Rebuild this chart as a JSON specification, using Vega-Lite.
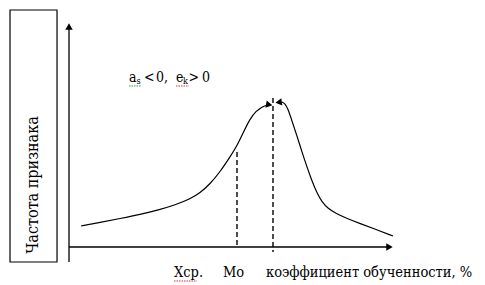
{
  "$schema": "https://vega.github.io/schema/vega-lite/v6.json",
  "width": 485,
  "height": 285,
  "padding": 0,
  "autosize": {"type": "none"},
  "background": "white",
  "config": {"view": {"stroke": null}},
  "datasets": {
    "curve": [
      {"b": "L", "i": 1, "x": 3.70, "y": 9.38},
      {"b": "L", "i": 2, "x": 9.57, "y": 10.94},
      {"b": "L", "i": 3, "x": 15.74, "y": 12.72},
      {"b": "L", "i": 4, "x": 21.91, "y": 14.51},
      {"b": "L", "i": 5, "x": 28.09, "y": 16.74},
      {"b": "L", "i": 6, "x": 32.72, "y": 18.75},
      {"b": "L", "i": 7, "x": 37.35, "y": 21.43},
      {"b": "L", "i": 8, "x": 40.43, "y": 24.11},
      {"b": "L", "i": 9, "x": 43.52, "y": 28.13},
      {"b": "L", "i": 10, "x": 46.60, "y": 33.48},
      {"b": "L", "i": 11, "x": 49.69, "y": 40.18},
      {"b": "L", "i": 12, "x": 51.85, "y": 45.09},
      {"b": "L", "i": 13, "x": 54.01, "y": 51.79},
      {"b": "L", "i": 14, "x": 55.86, "y": 57.14},
      {"b": "L", "i": 15, "x": 57.72, "y": 60.71},
      {"b": "L", "i": 16, "x": 59.57, "y": 62.50},
      {"b": "L", "i": 17, "x": 60.80, "y": 63.17},
      {"b": "R", "i": 1, "x": 65.74, "y": 64.73},
      {"b": "R", "i": 2, "x": 66.67, "y": 64.06},
      {"b": "R", "i": 3, "x": 67.59, "y": 61.61},
      {"b": "R", "i": 4, "x": 68.83, "y": 56.25},
      {"b": "R", "i": 5, "x": 70.37, "y": 49.55},
      {"b": "R", "i": 6, "x": 71.91, "y": 42.41},
      {"b": "R", "i": 7, "x": 73.46, "y": 35.71},
      {"b": "R", "i": 8, "x": 75.00, "y": 29.46},
      {"b": "R", "i": 9, "x": 76.54, "y": 24.11},
      {"b": "R", "i": 10, "x": 78.09, "y": 20.09},
      {"b": "R", "i": 11, "x": 79.94, "y": 17.19},
      {"b": "R", "i": 12, "x": 82.41, "y": 14.96},
      {"b": "R", "i": 13, "x": 85.80, "y": 12.72},
      {"b": "R", "i": 14, "x": 89.81, "y": 10.49},
      {"b": "R", "i": 15, "x": 94.44, "y": 8.04},
      {"b": "R", "i": 16, "x": 100.0, "y": 4.91}
    ],
    "axes": [
      {"x": 0, "y": -6.70, "x2": 0, "y2": 97.5},
      {"x": 0, "y": 0, "x2": 98.5, "y2": 0}
    ],
    "dashes": [
      {"x": 51.85, "y": 42.41, "x2": 51.85, "y2": -0.45},
      {"x": 62.96, "y": 66.52, "x2": 62.96, "y2": -2.23}
    ],
    "box": [
      {"x": -18.21, "x2": -3.70, "y": -6.70, "y2": 105.80}
    ],
    "heads": [
      {"x": 0, "y": 98.44, "shape": "triangle-up", "angle": 0},
      {"x": 98.92, "y": 0, "shape": "triangle-right", "angle": 0},
      {"x": 61.80, "y": 63.55, "shape": "triangle-right", "angle": 10},
      {"x": 64.70, "y": 64.60, "shape": "triangle-left", "angle": -8}
    ],
    "labels": [
      {"x": 18.52, "y": 73.66, "text": "a", "size": 14},
      {"x": 20.8, "y": 72.8, "text": "s", "size": 9},
      {"x": 23.15, "y": 73.66, "text": "<", "size": 14},
      {"x": 26.85, "y": 73.66, "text": "0,", "size": 14},
      {"x": 33.02, "y": 73.66, "text": "e", "size": 14},
      {"x": 35.19, "y": 72.8, "text": "k", "size": 9},
      {"x": 36.90, "y": 73.66, "text": ">", "size": 14},
      {"x": 41.05, "y": 73.66, "text": "0", "size": 14},
      {"x": 32.41, "y": -13.39, "text": "Xср.", "size": 14.5},
      {"x": 47.53, "y": -13.39, "text": "Mo", "size": 14.5},
      {"x": 60.80, "y": -13.39, "text": "коэффициент обученности, %", "size": 14.5}
    ],
    "squiggles": [
      {"x": 18.52, "x2": 22.3, "y": 71.88, "c": "#3c9a3c"},
      {"x": 33.02, "x2": 37.0, "y": 71.88, "c": "#e03030"},
      {"x": 32.41, "x2": 39.5, "y": -15.18, "c": "#e03030"}
    ],
    "ylab": [
      {"x": -11.11, "y": 27.68, "text": "Частота признака"}
    ]
  },
  "encoding": {
    "x": {"field": "x", "type": "quantitative", "scale": {"domain": [-21.30, 128.40], "nice": false, "zero": false}, "axis": null},
    "y": {"field": "y", "type": "quantitative", "scale": {"domain": [-16.96, 110.27], "nice": false, "zero": false}, "axis": null}
  },
  "layer": [
    {
      "data": {"name": "box"},
      "mark": {"type": "rect", "fill": null, "stroke": "black", "strokeWidth": 1.2},
      "encoding": {"x2": {"field": "x2"}, "y2": {"field": "y2"}}
    },
    {
      "data": {"name": "axes"},
      "mark": {"type": "rule", "color": "black", "strokeWidth": 1.3},
      "encoding": {"x2": {"field": "x2"}, "y2": {"field": "y2"}}
    },
    {
      "data": {"name": "dashes"},
      "mark": {"type": "rule", "color": "black", "strokeWidth": 1.4, "strokeDash": [5, 3]},
      "encoding": {"x2": {"field": "x2"}, "y2": {"field": "y2"}}
    },
    {
      "data": {"name": "curve"},
      "mark": {"type": "line", "color": "black", "strokeWidth": 1.2, "interpolate": "basis"},
      "encoding": {"detail": {"field": "b"}, "order": {"field": "i"}}
    },
    {
      "data": {"name": "heads"},
      "mark": {"type": "point", "filled": true, "color": "black", "size": 55, "opacity": 1},
      "encoding": {
        "shape": {"field": "shape", "type": "nominal", "scale": null},
        "angle": {"field": "angle", "type": "quantitative", "scale": null}
      }
    },
    {
      "data": {"name": "squiggles"},
      "mark": {"type": "rule", "strokeWidth": 1, "strokeDash": [1.5, 1]},
      "encoding": {"x2": {"field": "x2"}, "color": {"field": "c", "type": "nominal", "scale": null}}
    },
    {
      "data": {"name": "labels"},
      "mark": {"type": "text", "align": "left", "baseline": "alphabetic", "font": "DejaVu Serif Condensed, DejaVu Serif", "color": "black"},
      "encoding": {
        "text": {"field": "text"},
        "size": {"field": "size", "type": "quantitative", "scale": null}
      }
    },
    {
      "data": {"name": "ylab"},
      "mark": {"type": "text", "align": "center", "baseline": "middle", "angle": 270, "font": "DejaVu Serif Condensed, DejaVu Serif", "fontSize": 16, "color": "black"},
      "encoding": {"text": {"field": "text"}}
    }
  ]
}
